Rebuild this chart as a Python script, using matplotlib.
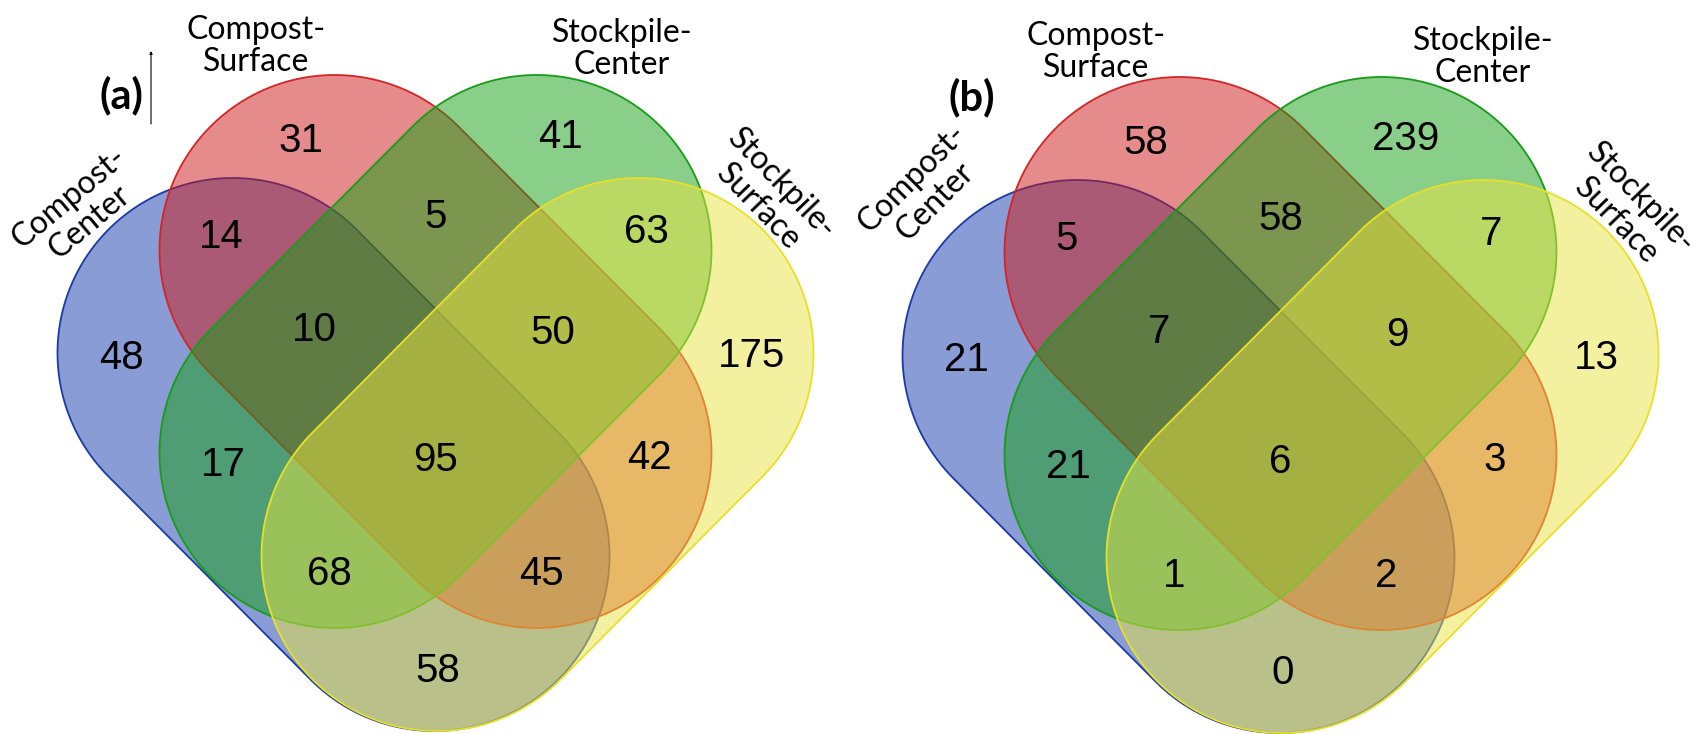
import numpy as np
import matplotlib.pyplot as plt
from matplotlib.path import Path
from matplotlib.patches import PathPatch

# Set names (drawing order: blue, red, green, yellow)
set_names = ["Compost-\nCenter", "Compost-\nSurface", "Stockpile-\nCenter", "Stockpile-\nSurface"]
face_rgb = [(21, 59, 173), (205, 25, 25), (21, 159, 21), (233, 229, 65)]
edge_rgb = [(26, 58, 168), (212, 36, 36), (24, 156, 24), (232, 224, 40)]

# Region keys: membership in (CC, CS, SC, SS)
regions = ["1000", "0100", "0010", "0001",
           "1100", "0110", "0011", "1010", "0101", "1001",
           "1110", "0111", "1011", "1101", "1111"]
counts_a = [48, 31, 41, 175, 14, 5, 63, 17, 42, 58, 10, 50, 68, 45, 95]
counts_b = [21, 58, 239, 13, 5, 58, 7, 21, 3, 0, 7, 9, 1, 2, 6]

# Where each region's number sits, relative to the diagram centre
region_pos = {
    "1000": (-314, -45), "0100": (-135, -262), "0010": (125, -266), "0001": (316, -47),
    "1100": (-214, -166), "0110": (0, -186), "0011": (211, -171),
    "1010": (-212, 62), "0101": (214, 55), "1001": (2, 268),
    "1110": (-121, -73), "0111": (117, -70), "1011": (-106, 171), "1101": (106, 171),
    "1111": (0, 57),
}

R = 175


def capsule(a, b, r=R, n=90):
    """Closed path of a capsule (stadium) between circle centres a and b."""
    a, b = np.asarray(a, float), np.asarray(b, float)
    phi = np.arctan2(b[1] - a[1], b[0] - a[0])
    t1 = np.linspace(phi - np.pi / 2, phi + np.pi / 2, n)
    t2 = np.linspace(phi + np.pi / 2, phi + 3 * np.pi / 2, n)
    pts = np.vstack([b + r * np.c_[np.cos(t1), np.sin(t1)],
                     a + r * np.c_[np.cos(t2), np.sin(t2)]])
    pts = np.vstack([pts, pts[:1]])
    codes = [Path.MOVETO] + [Path.LINETO] * (len(pts) - 2) + [Path.CLOSEPOLY]
    return Path(pts, codes)


def shape_centres(xc, dy):
    return [
        ((xc - 203, 353 + dy), (xc - 1, 556 + dy)),   # blue
        ((xc - 101, 250 + dy), (xc + 101, 453 + dy)),  # red
        ((xc + 101, 250 + dy), (xc - 101, 453 + dy)),  # green
        ((xc + 203, 353 + dy), (xc + 1, 556 + dy)),    # yellow
    ]


def rgb(c, a=1.0):
    return (c[0] / 255, c[1] / 255, c[2] / 255, a)


def draw_venn(ax, xc, dy, counts, letter, letter_xy, name_pos):
    for (a, b), fc, ec in zip(shape_centres(xc, dy), face_rgb, edge_rgb):
        ax.add_patch(PathPatch(capsule(a, b), facecolor=rgb(fc, 0.5),
                               edgecolor=rgb(ec), lw=1.3))
    yc = 403 + dy
    for key, val in zip(regions, counts):
        px, py = region_pos[key]
        ax.text(xc + px, yc + py, str(val), ha="center", va="center",
                fontsize=29, family="Liberation Sans", color="black")
    for name, (px, py, rot) in zip(set_names, name_pos):
        ax.text(xc + px, py, name, ha="center", va="center", rotation=rot,
                rotation_mode="anchor", multialignment="center",
                linespacing=1.12, fontsize=23, family="Lato")
    ax.text(letter_xy[0], letter_xy[1], letter, ha="center", va="center",
            fontsize=30, fontweight="bold", family="Lato")


fig = plt.figure(figsize=(17.03, 7.34), dpi=100)
ax = fig.add_axes([0, 0, 1, 1])
ax.set_xlim(0, 1703)
ax.set_ylim(734, 0)
ax.axis("off")

names_a = [(-356, 210, 40), (-179.5, 46, 0), (186.5, 49, 0), (334.5, 196, -46)]
names_b = [(-357, 190, 45), (-184.5, 52, 0), (202.5, 57, 0), (348, 210, -46)]

draw_venn(ax, 435.5, 0, counts_a, "(a)", (121, 95), names_a)
draw_venn(ax, 1280.5, 2, counts_b, "(b)", (972, 97), names_b)

# thin marker line beside the panel letter
ax.annotate("", xy=(151, 51), xytext=(151, 124),
            arrowprops=dict(arrowstyle="-|>", lw=0.8, color="black",
                            mutation_scale=4, shrinkA=0, shrinkB=0))

fig.savefig("out.png", dpi=100)
